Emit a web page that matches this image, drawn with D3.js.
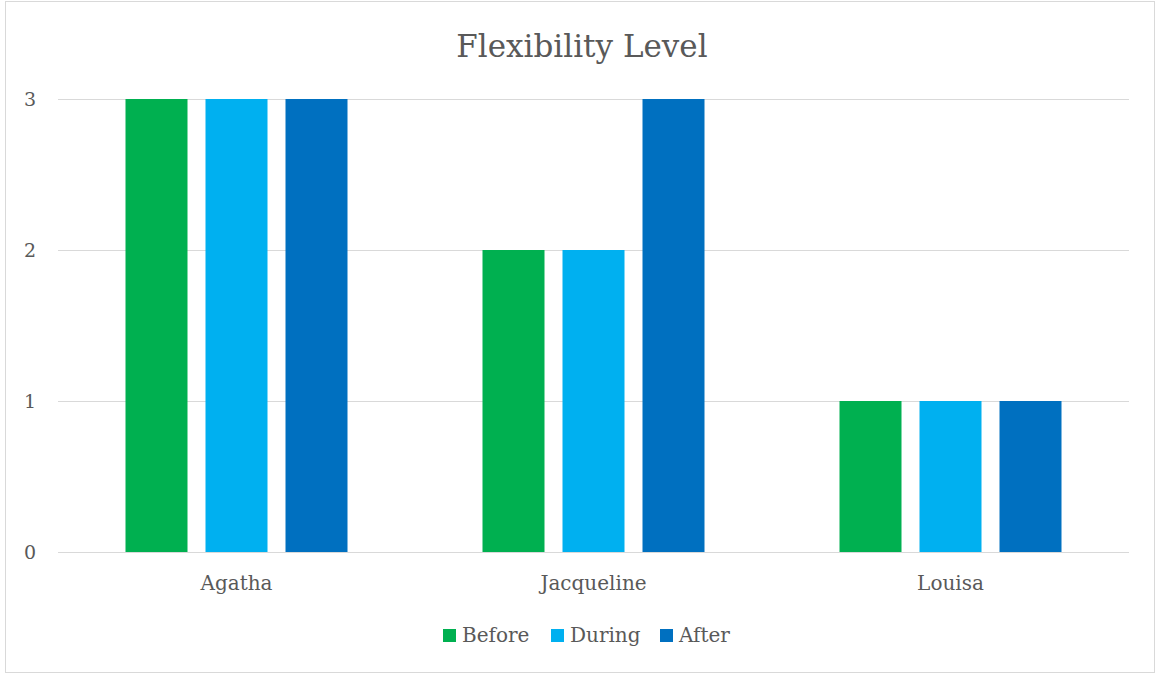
<!DOCTYPE html>
<html><head><meta charset="utf-8">
<script src="https://cdn.jsdelivr.net/npm/d3@7"></script>
<style>
html,body{margin:0;padding:0;background:#fff;}
svg{display:block;}
text{font-family:"DejaVu Serif", serif; fill:#595959;}
</style></head>
<body><svg id="chart" width="1160" height="677"></svg>
<script>
const categories = ["Agatha", "Jacqueline", "Louisa"];
const seriesNames = ["Before", "During", "After"];
const beforeValues = [3, 2, 1];
const duringValues = [3, 2, 1];
const afterValues = [3, 3, 1];
const yTicks = [0, 1, 2, 3];
const title = "Flexibility Level";
const colors = ["#00b050", "#00b0f0", "#0070c0"];

const seriesValues = [beforeValues, duringValues, afterValues];
const svg = d3.select("#chart");
const plot = {left: 58, right: 1129, top: 99, bottom: 552};

svg.append("rect").attr("x", 5.5).attr("y", 1.5).attr("width", 1149).attr("height", 671)
  .attr("fill", "#fff").attr("stroke", "#d9d9d9").attr("stroke-width", 1);

const x0 = d3.scaleBand().domain(categories).range([plot.left, plot.right]).padding(0);
const half = 111;
const x1 = d3.scaleBand().domain(seriesNames)
  .range([x0.bandwidth()/2 - half, x0.bandwidth()/2 + half]).paddingInner(0.225).paddingOuter(0);
const y = d3.scaleLinear().domain([0, 3]).range([plot.bottom, plot.top]);

// gridlines
svg.append("g").selectAll("line").data(yTicks).join("line")
  .attr("x1", plot.left).attr("x2", plot.right)
  .attr("y1", d => Math.round(y(d)) + 0.5).attr("y2", d => Math.round(y(d)) + 0.5)
  .attr("stroke", "#d9d9d9").attr("stroke-width", 1);

// y axis labels
const yAxis = d3.axisLeft(y).tickValues(yTicks).tickSize(0).tickPadding(0).tickFormat(d3.format("d"));
const gy = svg.append("g").attr("transform", `translate(36,0)`).call(yAxis);
gy.select(".domain").remove();
gy.selectAll("text").attr("font-family", "DejaVu Serif").attr("font-size", 19).attr("fill", "#595959");

// bars
const groups = svg.append("g").selectAll("g").data(categories).join("g")
  .attr("transform", d => `translate(${x0(d)},0)`);
groups.selectAll("rect").data((d, i) => seriesNames.map((s, j) => ({s, v: seriesValues[j][i], c: colors[j]})))
  .join("rect")
  .attr("x", d => x1(d.s)).attr("width", x1.bandwidth())
  .attr("y", d => y(d.v)).attr("height", d => y(0) - y(d.v))
  .attr("fill", d => d.c);

// baseline
svg.append("line").attr("x1", plot.left).attr("x2", plot.right)
  .attr("y1", Math.round(y(0)) + 0.5).attr("y2", Math.round(y(0)) + 0.5)
  .attr("stroke", "#d9d9d9").attr("stroke-width", 1);

// x axis labels
const xAxis = d3.axisBottom(x0).tickSize(0).tickPadding(0);
const gx = svg.append("g").attr("transform", `translate(0,${plot.bottom + 24})`).call(xAxis);
gx.select(".domain").remove();
gx.selectAll("text").attr("font-family", "DejaVu Serif").attr("font-size", 20).attr("fill", "#595959");

// title
svg.append("text").attr("x", 582).attr("y", 57).attr("text-anchor", "middle")
  .attr("font-size", 31).text(title);

// legend
const legendX = [443, 551, 660];
const lg = svg.append("g").selectAll("g").data(seriesNames).join("g")
  .attr("transform", (d, i) => `translate(${legendX[i]},629)`);
lg.append("rect").attr("width", 13).attr("height", 13).attr("fill", (d, i) => colors[i]);
lg.append("text").attr("x", 19).attr("y", 13).attr("font-size", 20).text(d => d);
</script></body></html>
